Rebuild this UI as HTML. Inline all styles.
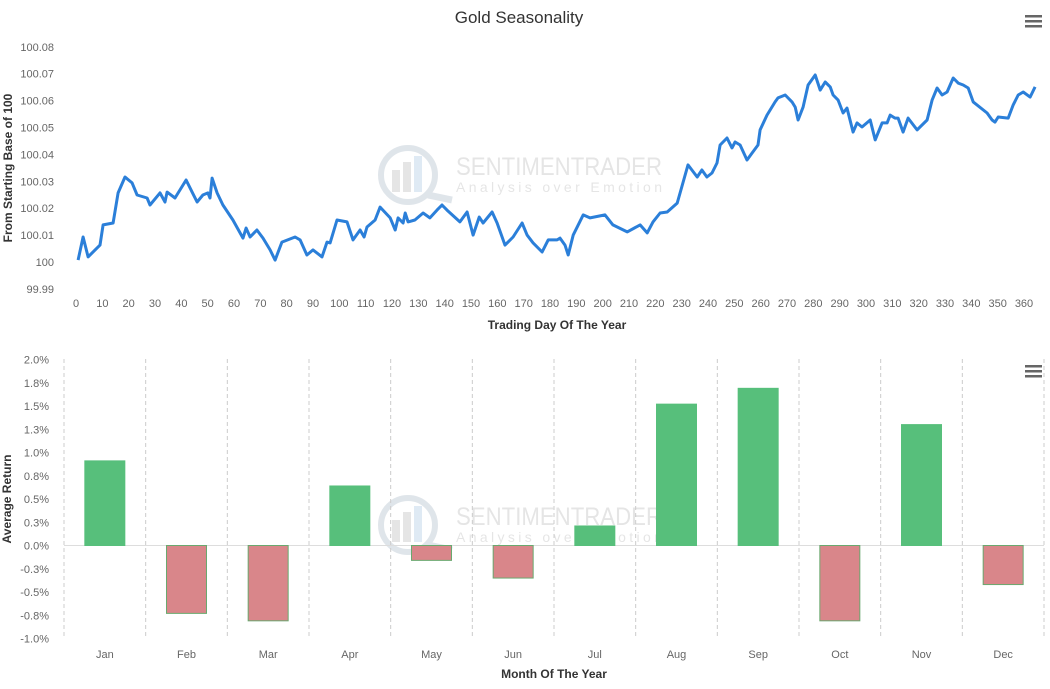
<!DOCTYPE html>
<html><head><meta charset="utf-8"><style>
body{margin:0;background:#fff;font-family:"Liberation Sans",sans-serif;}
svg text{font-family:"Liberation Sans",sans-serif;}
</style></head><body>
<svg id="c" width="1050" height="684" viewBox="0 0 1050 684" xmlns="http://www.w3.org/2000/svg">
<rect width="1050" height="684" fill="#fff"/>
<text x="519" y="23" text-anchor="middle" font-size="17" fill="#333">Gold Seasonality</text>
<g fill="#666"><rect x="1025" y="15" width="17" height="2.5"/><rect x="1025" y="20" width="17" height="2.5"/><rect x="1025" y="25" width="17" height="2.5"/></g>
<g fill="#666"><rect x="1025" y="365" width="17" height="2.5"/><rect x="1025" y="370" width="17" height="2.5"/><rect x="1025" y="375" width="17" height="2.5"/></g>
<g id="wm1" opacity="0.3">
<circle cx="408" cy="175" r="27" fill="none" stroke="#9ab" stroke-width="6"/><line x1="428" y1="195" x2="452" y2="200" stroke="#9ab" stroke-width="7"/>
<rect x="392" y="170" width="8" height="22" fill="#aaa"/><rect x="403" y="162" width="8" height="30" fill="#aaa"/><rect x="414" y="156" width="8" height="36" fill="#9bd"/>
<text x="456" y="175" font-size="25" fill="#aaa" textLength="206" lengthAdjust="spacingAndGlyphs">SENTIMENTRADER</text><text x="456" y="192" font-size="14" fill="#aaa" textLength="206" lengthAdjust="spacing">Analysis over Emotion</text></g>
<g id="wm2" opacity="0.3">
<circle cx="408" cy="525" r="27" fill="none" stroke="#9ab" stroke-width="6"/><line x1="428" y1="545" x2="452" y2="550" stroke="#9ab" stroke-width="7"/>
<rect x="392" y="520" width="8" height="22" fill="#aaa"/><rect x="403" y="512" width="8" height="30" fill="#aaa"/><rect x="414" y="506" width="8" height="36" fill="#9bd"/>
<text x="456" y="525" font-size="25" fill="#aaa" textLength="206" lengthAdjust="spacingAndGlyphs">SENTIMENTRADER</text><text x="456" y="542" font-size="14" fill="#aaa" textLength="206" lengthAdjust="spacing">Analysis over Emotion</text></g>
<g id="gtop"></g><g id="gbot"></g>
</svg>
<script>
const days=[0.8,2.7,4.6,9.1,10.3,14.1,16.0,18.6,21.3,23.2,27.0,28.1,31.9,33.8,34.6,37.6,41.8,44.1,46.0,48.2,50.1,50.9,51.7,53.6,55.8,59.6,63.4,64.6,66.1,68.7,71.0,73.7,75.6,78.2,83.2,85.1,87.7,90.0,93.4,95.3,96.5,99.1,102.9,105.2,107.9,109.4,110.5,113.6,115.5,119.3,121.2,122.3,124.2,125.0,126.1,128.7,131.8,134.4,137.1,139.0,140.9,145.8,148.5,150.8,153.1,154.6,158.0,159.9,162.9,166.0,169.4,171.3,173.6,177.0,179.3,182.7,183.8,185.7,186.9,188.8,192.6,195.2,200.9,203.9,209.3,214.2,216.9,219.1,221.8,224.5,228.3,229.4,232.4,235.9,237.7,239.6,241.5,243.4,244.6,247.2,249.1,250.3,252.2,254.8,256.7,259.0,259.8,262.4,265.5,266.6,269.3,271.9,273.1,274.2,276.1,278.0,280.7,282.6,284.5,286.4,287.5,289.4,291.3,292.8,295.1,296.6,298.5,301.6,303.5,306.1,308.0,309.2,311.0,312.2,314.1,316.0,319.4,323.2,325.1,327.0,328.9,330.8,333.1,335.0,336.9,338.8,340.7,346.0,347.9,349.0,350.2,354.0,355.9,357.8,359.7,362.3,364.2];
const values=[100.0007,100.0093,100.0019,100.0063,100.0138,100.0145,100.0257,100.0316,100.0294,100.0249,100.0238,100.0212,100.0257,100.0223,100.0260,100.0238,100.0305,100.0260,100.0223,100.0249,100.0257,100.0238,100.0312,100.0257,100.0212,100.0156,100.0089,100.0126,100.0093,100.0119,100.0089,100.0045,100.0007,100.0074,100.0093,100.0082,100.0026,100.0045,100.0019,100.0074,100.0071,100.0156,100.0149,100.0082,100.0119,100.0093,100.0130,100.0156,100.0204,100.0164,100.0119,100.0164,100.0145,100.0182,100.0149,100.0156,100.0182,100.0164,100.0193,100.0212,100.0193,100.0149,100.0186,100.0100,100.0167,100.0145,100.0186,100.0145,100.0063,100.0093,100.0145,100.0100,100.0071,100.0037,100.0082,100.0082,100.0089,100.0063,100.0026,100.0100,100.0175,100.0164,100.0175,100.0138,100.0112,100.0138,100.0108,100.0149,100.0182,100.0186,100.0219,100.0257,100.0361,100.0316,100.0342,100.0316,100.0331,100.0368,100.0435,100.0461,100.0424,100.0446,100.0435,100.0379,100.0405,100.0435,100.0491,100.0546,100.0595,100.0610,100.0621,100.0595,100.0576,100.0528,100.0576,100.0658,100.0695,100.0639,100.0669,100.0651,100.0621,100.0602,100.0554,100.0572,100.0483,100.0517,100.0502,100.0528,100.0454,100.0517,100.0517,100.0546,100.0535,100.0535,100.0483,100.0535,100.0491,100.0528,100.0602,100.0647,100.0621,100.0632,100.0684,100.0665,100.0658,100.0647,100.0595,100.0554,100.0528,100.0520,100.0539,100.0535,100.0584,100.0621,100.0632,100.0613,100.0651];
const yTicksTop=["99.99","100","100.01","100.02","100.03","100.04","100.05","100.06","100.07","100.08"];
const xTicksTop=[0,10,20,30,40,50,60,70,80,90,100,110,120,130,140,150,160,170,180,190,200,210,220,230,240,250,260,270,280,290,300,310,320,330,340,350,360];
const months=["Jan","Feb","Mar","Apr","May","Jun","Jul","Aug","Sep","Oct","Nov","Dec"];
const returns=[0.91,-0.73,-0.81,0.64,-0.16,-0.35,0.21,1.52,1.69,-0.81,1.30,-0.42];
const yTicksBot=[-1.0,-0.75,-0.5,-0.25,0,0.25,0.5,0.75,1.0,1.25,1.5,1.75,2.0];
const yTickLabelsBot=["-1.0%","-0.8%","-0.5%","-0.3%","0.0%","0.3%","0.5%","0.8%","1.0%","1.3%","1.5%","1.8%","2.0%"];

const NS="http://www.w3.org/2000/svg";
function mk(p,t,a,txt){const e=document.createElementNS(NS,t);for(const k in a)e.setAttribute(k,a[k]);if(txt!==undefined)e.textContent=txt;p.appendChild(e);return e;}
const gTop=document.getElementById('gtop'),gBot=document.getElementById('gbot');
const xT=d=>76+d*(948/360);
const yT=v=>262-(v-100)*2690;
yTicksTop.forEach(s=>{const t=mk(gTop,'text',{x:54,y:yT(parseFloat(s))+4,'text-anchor':'end','font-size':11,fill:'#666'},s);

});
xTicksTop.forEach(d=>{const t=mk(gTop,'text',{x:xT(d),y:307,'text-anchor':'middle','font-size':11,fill:'#666'},String(d));

});
let dstr=days.map((d,i)=>(i?'L':'M')+xT(d).toFixed(1)+','+yT(values[i]).toFixed(1)).join(' ');
const ln=mk(gTop,'path',{d:dstr,fill:'none',stroke:'#2b7fd9','stroke-width':3,'stroke-linejoin':'round'});


const xt=mk(gTop,'text',{x:557,y:329,'text-anchor':'middle','font-size':12,'font-weight':'bold',fill:'#333'},'Trading Day Of The Year');


const yt=mk(gTop,'text',{x:0,y:0,transform:'translate(12,168) rotate(-90)','text-anchor':'middle','font-size':12,'font-weight':'bold',fill:'#333'},'From Starting Base of 100');



const L=64,R=1044,bw=(R-L)/12;
const yB=v=>545.5-v*93;
for(let i=0;i<=12;i++){const g=mk(gBot,'line',{x1:L+i*bw,x2:L+i*bw,y1:359,y2:638,stroke:'#ccc','stroke-dasharray':'4,3'});

}
yTicksBot.forEach((v,i)=>{const t=mk(gBot,'text',{x:49,y:yB(v)+4,'text-anchor':'end','font-size':11,fill:'#666'},yTickLabelsBot[i]);

});
const z=mk(gBot,'line',{x1:L,x2:R,y1:yB(0),y2:yB(0),stroke:'#ddd','stroke-width':1});


months.forEach((m,i)=>{const v=returns[i];const cx=L+(i+0.5)*bw;const y0=yB(0),y1=yB(v);
const b=mk(gBot,'rect',{x:cx-20,y:Math.min(y0,y1),width:40,height:Math.abs(y1-y0),fill:v>=0?'#57bf7b':'#d9868a',stroke:v>=0?'#57bf7b':'#6aa86f','stroke-width':1});


const t=mk(gBot,'text',{x:cx,y:658,'text-anchor':'middle','font-size':11,fill:'#666'},m);

});
const xb=mk(gBot,'text',{x:554,y:678,'text-anchor':'middle','font-size':12,'font-weight':'bold',fill:'#333'},'Month Of The Year');


const yb=mk(gBot,'text',{x:0,y:0,transform:'translate(11,499) rotate(-90)','text-anchor':'middle','font-size':12,'font-weight':'bold',fill:'#333'},'Average Return');


</script>
</body></html>
